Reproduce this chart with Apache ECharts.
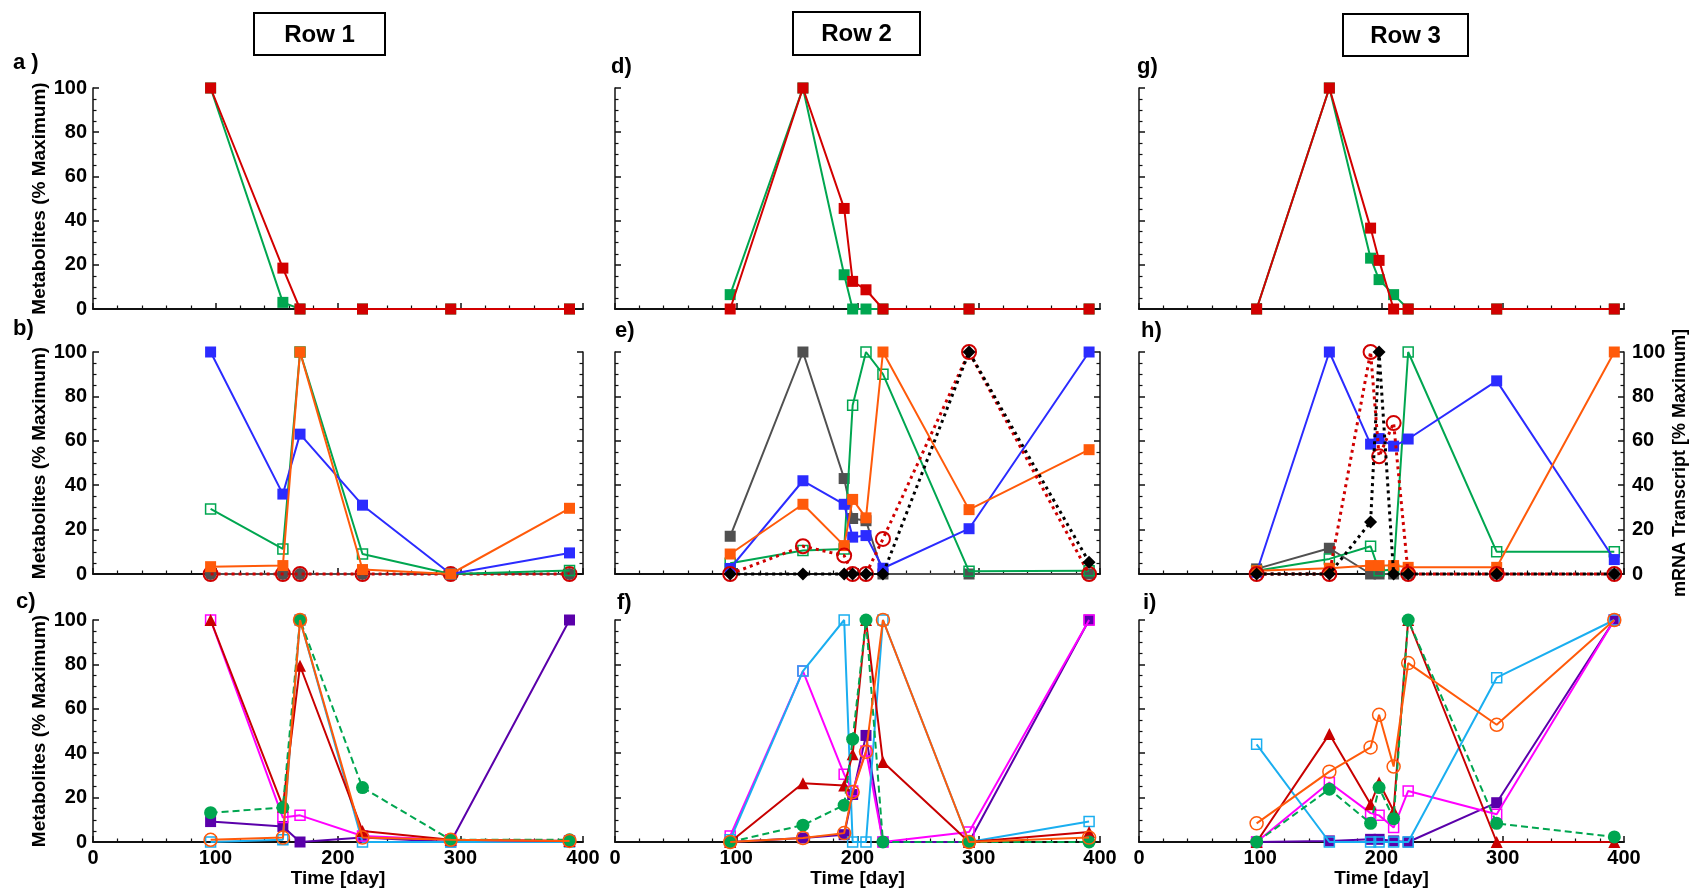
<!DOCTYPE html>
<html><head><meta charset="utf-8">
<script src="https://cdn.jsdelivr.net/npm/echarts@6/dist/echarts.min.js"></script>
<style>html,body{margin:0;padding:0;background:#fff}#c{width:1691px;height:891px}</style>
</head><body><div id="c"></div>
<script>
// ---------------- DATA ----------------
const timesCol1 = [96, 155, 169, 220, 292, 389];
const timesCol2 = [95, 155, 189, 196, 207, 221, 292, 391];
const timesCol3 = [97, 157, 191, 198, 210, 222, 295, 392];
const xTickValues = [0, 100, 200, 300, 400];
const yTickValues = [0, 20, 40, 60, 80, 100];
const rowTitles = ['Row 1', 'Row 2', 'Row 3'];
const panelLetters = ['a )', 'b)', 'c)', 'd)', 'e)', 'f)', 'g)', 'h)', 'i)'];
const yTitle = 'Metabolites (% Maximum)';
const y2Title = 'mRNA Transcript [% Maximum]';
const xTitle = 'Time [day]';

// panel a
const aGreen = [100, 3, 0, 0, 0, 0];
const aRed = [100, 18.5, 0, 0, 0, 0];
// panel b
const bGrayCircle = [0, 0, 0, 0, 0, 0];
const bRedMrna = [0, 0, 0, 0, 0, 0];
const bGreenOpen = [29.3, 11.3, 100, 9, 0, 1.6];
const bBlue = [100, 36, 63, 31, 0, 9.5];
const bOrange = [3.3, 3.8, 100, 2, 0, 29.6];
// panel c
const cPurple = [9.2, 7, 0, 2, 0, 100];
const cCyan = [0, 1, 100, 0, 0, 0];
const cMagenta = [100, 11, 12, 2.7, 1, 0.5];
const cRed = [100, 16, 79.4, 5, 1, 0.5];
const cGreen = [13.2, 15.5, 100, 24.5, 1, 1];
const cOrange = [1, 2, 100, 2, 1, 0.5];
// panel d
const dGreen = [6.5, 100, 15.5, 0, 0, 0, 0, 0];
const dRed = [0, 100, 45.5, 12.5, 8.7, 0, 0, 0];
// panel e
const eGray = [17, 100, 43, 25, 24, 0, 0, 0];
const eGreenOpen = [4.8, 10.6, 11.3, 76, 100, 90, 1.2, 1.5];
const eBlue = [2.5, 42, 31.4, 16.6, 17.3, 2.6, 20.4, 100];
const eOrange = [9, 31.4, 12.8, 33.6, 25.3, 100, 29, 56];
const eRedMrna = [0, 12.5, 8.3, 0, 0, 15.8, 100, 0];
const eBlackMrna = [0, 0, 0, 0, 0, 0, 100, 5.3];
// panel f
const fPurple = [0, 1.8, 3.3, 21.4, 48, 0, 0, 100];
const fMagenta = [2.7, 77, 30.5, 23, 41, 0, 4.5, 100];
const fCyan = [1, 77, 100, 0, 0, 100, 0, 9.2];
const fRed = [0, 26.5, 25.5, 39.5, 100, 36, 0, 4.5];
const fGreen = [0, 7.6, 16.6, 46.3, 100, 0, 0, 0];
const fOrange = [0, 1.8, 4, 22.5, 40.6, 100, 0, 2];
// panel g
const gGreen = [0, 100, 23, 13.3, 6.5, 0, 0, 0];
const gRed = [0, 100, 36.6, 22, 0, 0, 0, 0];
// panel h
const hGray = [2.3, 11.6, 0, 0, 0, 0, 0, 0];
const hGreenOpen = [1.5, 6.8, 12.5, 1.5, 2, 100, 10, 10];
const hBlue = [0.8, 100, 58.5, 61, 57.6, 60.8, 87, 6.5];
const hOrange = [1.5, 2.6, 3.8, 3.8, 3.8, 3, 3, 100];
const hRedMrna = [0, 0, 100, 53, 68, 0, 0, 0];
const hBlackMrna = [0, 0, 23.4, 100, 0, 0, 0, 0];
// panel i
const iPurple = [0, 0.5, 1.2, 1.2, 0.5, 0, 17.7, 100];
const iMagenta = [0, 26.8, 13, 12, 6.5, 23, 12.5, 100];
const iCyan = [44, 0, 0, 0, 0, 0, 74, 100];
const iRed = [0, 48.6, 17, 26.8, 14, 100, 0, 0];
const iGreen = [0, 23.8, 8.4, 24.5, 10.5, 100, 8.4, 2.3];
const iOrange = [8.4, 31.7, 42.6, 57.3, 34, 80.6, 52.8, 100];

// ---------------- STYLES ----------------
const FONT = '"Liberation Sans", Arial, Helvetica, sans-serif';
const STY = {
  redSq:      {c:'#D20000', sym:'rect', size:11, fill:true},
  greenSq:    {c:'#00A650', sym:'rect', size:11, fill:true},
  blueSq:     {c:'#2B2BFF', sym:'rect', size:11, fill:true},
  orangeSq:   {c:'#FF5A0A', sym:'rect', size:11, fill:true},
  graySq:     {c:'#505050', sym:'rect', size:11, fill:true},
  grayCircle: {c:'#505050', sym:'circle', size:12, fill:true},
  greenOpenSq:{c:'#00A650', sym:'rect', size:10, fill:false},
  redCircleDot:{c:'#D00000', sym:'circle', size:14, fill:false, w:3, dash:[3,4], bw:2, mrna:true},
  blackDiamondDot:{c:'#000000', sym:'diamond', size:13, fill:true, w:3, dash:[3,4], mrna:true},
  purpleSq:   {c:'#5A00AA', sym:'rect', size:11, fill:true},
  cyanOpenSq: {c:'#1AAEF0', sym:'rect', size:10, fill:false},
  magentaOpenSq:{c:'#FF00FF', sym:'rect', size:10, fill:false},
  darkredTri: {c:'#C80000', sym:'triangle', size:12, fill:true},
  greenCircleDash:{c:'#00A650', sym:'circle', size:13, fill:true, dash:[7,4]},
  orangeOpenCircle:{c:'#FF5A0A', sym:'circle', size:13, fill:false}
};

const panels = [
  {r:0, c:0, s:[[timesCol1,aGreen,'greenSq'],[timesCol1,aRed,'redSq']]},
  {r:1, c:0, s:[[timesCol1,bGrayCircle,'grayCircle'],[timesCol1,bRedMrna,'redCircleDot'],[timesCol1,bGreenOpen,'greenOpenSq'],[timesCol1,bBlue,'blueSq'],[timesCol1,bOrange,'orangeSq']]},
  {r:2, c:0, s:[[timesCol1,cPurple,'purpleSq'],[timesCol1,cCyan,'cyanOpenSq'],[timesCol1,cMagenta,'magentaOpenSq'],[timesCol1,cRed,'darkredTri'],[timesCol1,cGreen,'greenCircleDash'],[timesCol1,cOrange,'orangeOpenCircle']]},
  {r:0, c:1, s:[[timesCol2,dGreen,'greenSq'],[timesCol2,dRed,'redSq']]},
  {r:1, c:1, s:[[timesCol2,eGray,'graySq'],[timesCol2,eGreenOpen,'greenOpenSq'],[timesCol2,eBlue,'blueSq'],[timesCol2,eOrange,'orangeSq'],[timesCol2,eRedMrna,'redCircleDot'],[timesCol2,eBlackMrna,'blackDiamondDot']]},
  {r:2, c:1, s:[[timesCol2,fPurple,'purpleSq'],[timesCol2,fMagenta,'magentaOpenSq'],[timesCol2,fCyan,'cyanOpenSq'],[timesCol2,fRed,'darkredTri'],[timesCol2,fGreen,'greenCircleDash'],[timesCol2,fOrange,'orangeOpenCircle']]},
  {r:0, c:2, s:[[timesCol3,gGreen,'greenSq'],[timesCol3,gRed,'redSq']]},
  {r:1, c:2, s:[[timesCol3,hGray,'graySq'],[timesCol3,hGreenOpen,'greenOpenSq'],[timesCol3,hBlue,'blueSq'],[timesCol3,hOrange,'orangeSq'],[timesCol3,hRedMrna,'redCircleDot'],[timesCol3,hBlackMrna,'blackDiamondDot']]},
  {r:2, c:2, s:[[timesCol3,iPurple,'purpleSq'],[timesCol3,iMagenta,'magentaOpenSq'],[timesCol3,iCyan,'cyanOpenSq'],[timesCol3,iRed,'darkredTri'],[timesCol3,iGreen,'greenCircleDash'],[timesCol3,iOrange,'orangeOpenCircle']]}
];

// ---------------- LAYOUT ----------------
const cols = [{left:93, width:490}, {left:615, width:485}, {left:1139, width:485}];
const rows = [{top:88, height:221}, {top:352, height:222}, {top:620, height:222}];
const letterPos = [[13,63],[13,329],[16,602],[611,67],[615,331],[617,603],[1137,67],[1141,331],[1143,603]];
const boxPos = [[254,13,131,42],[793,12,127,43],[1343,14,125,42]];

const labelStyle = {color:'#000', fontSize:20, fontWeight:'bold', fontFamily:FONT};
const nameStyle = {color:'#000', fontSize:19, fontWeight:'bold', fontFamily:FONT};

const grid = [], xAxis = [], yAxis = [], series = [], graphic = [];

panels.forEach((p, gi) => {
  grid.push({left:cols[p.c].left, top:rows[p.r].top, width:cols[p.c].width, height:rows[p.r].height, outerBoundsMode:'none', containLabel:false});
  const bottomRow = p.r === 2;
  xAxis.push({
    type:'value', gridIndex:gi, min:xTickValues[0], max:xTickValues[xTickValues.length-1], interval:100,
    axisLine:{show:true, onZero:false, lineStyle:{color:'#111', width:2}},
    axisTick:{show:true, inside:true, length:6, lineStyle:{color:'#111', width:1.5}},
    minorTick:{show:true, splitNumber:5, length:3.5, lineStyle:{color:'#111', width:1.2}},
    splitLine:{show:false}, minorSplitLine:{show:false},
    axisLabel:Object.assign({show:bottomRow, margin:6, hideOverlap:false}, labelStyle),
    name: bottomRow ? xTitle : '', nameLocation:'middle', nameGap:25, nameTextStyle:nameStyle
  });
  const yi = yAxis.length;
  yAxis.push({
    type:'value', gridIndex:gi, position:'left', min:yTickValues[0], max:yTickValues[yTickValues.length-1], interval:20,
    axisLine:{show:true, onZero:false, lineStyle:{color:'#111', width:1.5}},
    axisTick:{show:true, inside:true, length:6, lineStyle:{color:'#111', width:1.5}},
    minorTick:{show:true, splitNumber:4, length:3.5, lineStyle:{color:'#111', width:1.2}},
    splitLine:{show:false}, minorSplitLine:{show:false},
    axisLabel:Object.assign({show:p.c === 0, margin:6, hideOverlap:false}, labelStyle),
    name: p.c === 0 ? yTitle : '', nameLocation:'middle', nameGap:42, nameTextStyle:nameStyle
  });
  let ri = null;
  if (p.r === 1) {
    ri = yAxis.length;
    yAxis.push({
      type:'value', gridIndex:gi, position:'right', min:yTickValues[0], max:yTickValues[yTickValues.length-1], interval:20,
      axisLine:{show:true, onZero:false, lineStyle:{color:'#111', width:1.5}},
      axisTick:{show:true, inside:true, length:6, lineStyle:{color:'#111', width:1.5}},
      minorTick:{show:true, splitNumber:4, length:3.5, lineStyle:{color:'#111', width:1.2}},
      splitLine:{show:false}, minorSplitLine:{show:false},
      axisLabel:Object.assign({show:p.c === 2, margin:8, hideOverlap:false}, labelStyle),
      name: p.c === 2 ? y2Title : '', nameLocation:'middle', nameGap:47, nameTextStyle:Object.assign({}, nameStyle, {fontSize:18})
    });
  }
  p.s.forEach(([t, v, key], k) => {
    const S = STY[key];
    series.push({
      type:'line', xAxisIndex:gi, yAxisIndex: S.mrna ? ri : yi,
      data: t.map((x, j) => [x, v[j]]),
      symbol:S.sym, symbolSize:S.size, showSymbol:true, clip:false, silent:true,
      z: 2 + k * 0.01,
      lineStyle:{color:S.c, width:S.w || 2, type:S.dash || 'solid'},
      itemStyle: S.fill ? {color:S.c, borderColor:S.c, borderWidth:0}
                        : {color:'rgba(255,255,255,0)', borderColor:S.c, borderWidth:S.bw || 1.5},
      emphasis:{disabled:true}
    });
  });
  graphic.push({type:'text', x:letterPos[gi][0], y:letterPos[gi][1],
    style:{text:panelLetters[gi], fill:'#000', font:'bold 22px ' + FONT, align:'left', verticalAlign:'middle', textAlign:'left', textVerticalAlign:'middle'}});
});

rowTitles.forEach((t, i) => {
  const [bx, by, bw, bh] = boxPos[i];
  graphic.push({type:'rect', shape:{x:bx, y:by, width:bw, height:bh}, style:{fill:'#fff', stroke:'#000', lineWidth:2}});
  graphic.push({type:'text', x:bx + bw/2, y:by + bh/2 + 1,
    style:{text:t, fill:'#000', font:'bold 24px ' + FONT, align:'center', verticalAlign:'middle', textAlign:'center', textVerticalAlign:'middle'}});
});

const chart = echarts.init(document.getElementById('c'), null, {renderer:'canvas', width:1691, height:891});
chart.setOption({animation:false, backgroundColor:'#fff', grid, xAxis, yAxis, series, graphic});
</script>
</body></html>
